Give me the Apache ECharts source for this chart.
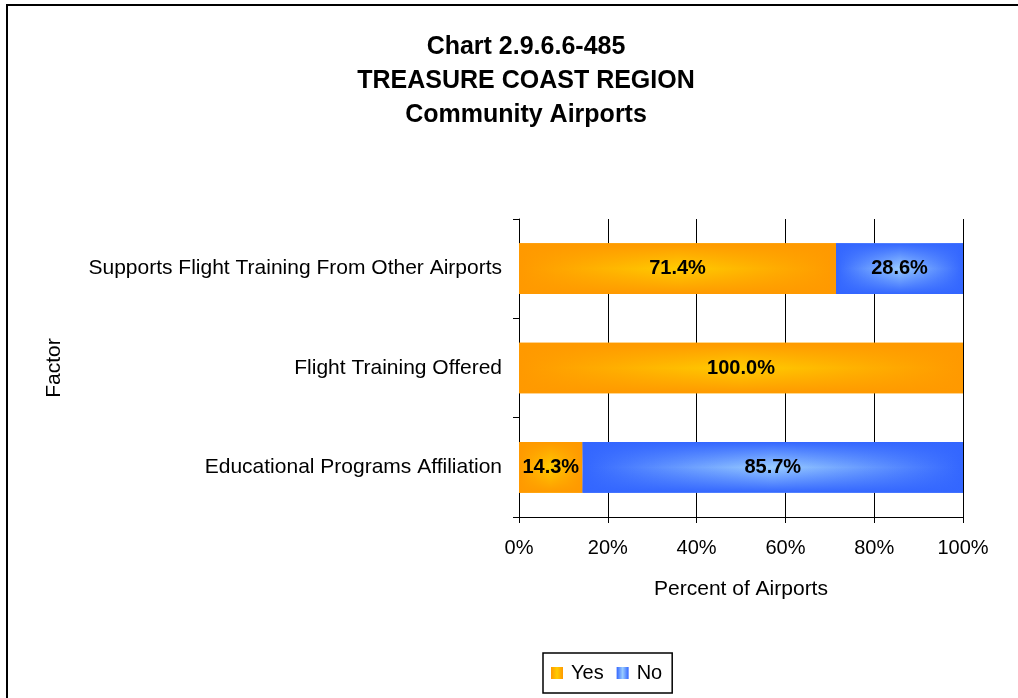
<!DOCTYPE html>
<html>
<head>
<meta charset="utf-8">
<script src="https://cdn.jsdelivr.net/npm/echarts@6/dist/echarts.min.js"></script>
<style>
  html, body { margin: 0; padding: 0; background: #fff; }
  #chart { width: 1018px; height: 698px; }
</style>
</head>
<body>
<div id="chart"></div>
<script>
// categories listed bottom to top (category axis starts at the bottom)
const factors = [
  "Educational Programs Affiliation",
  "Flight Training Offered",
  "Supports Flight Training From Other Airports"
];
const yesValues = [14.3, 100.0, 71.4];
const noValues = [85.7, 0, 28.6];
const xTicks = [0, 20, 40, 60, 80, 100];

const FONT = "Liberation Sans, Arial, sans-serif";

// excel-like "from center" fill: horizontal ramp + vertical darkening overlay
const sideRamp = (edge, mid) =>
  new echarts.graphic.LinearGradient(0, 0, 1, 0, [
    { offset: 0, color: edge },
    { offset: 0.5, color: mid },
    { offset: 1, color: edge }
  ]);
const topBottomShade = (rgb) =>
  new echarts.graphic.LinearGradient(0, 0, 0, 1, [
    { offset: 0, color: "rgba(" + rgb + ",1)" },
    { offset: 0.5, color: "rgba(" + rgb + ",0)" },
    { offset: 1, color: "rgba(" + rgb + ",1)" }
  ]);

const pctLabel = {
  show: true,
  position: "inside",
  color: "#000",
  fontWeight: "bold",
  fontSize: 20,
  fontFamily: FONT,
  formatter: (p) => (p.value > 0 ? p.value.toFixed(1) + "%" : "")
};

const chart = echarts.init(document.getElementById("chart"));

const option = {
  backgroundColor: "#fff",
  animation: false,
  title: {
    text: "Chart 2.9.6.6-485\nTREASURE COAST REGION\nCommunity Airports",
    left: 521,
    top: 25,
    textAlign: "center",
    textStyle: {
      fontFamily: FONT,
      fontWeight: "bold",
      fontSize: 25,
      lineHeight: 34,
      color: "#000"
    }
  },
  graphic: [
    {
      type: "polyline",
      shape: { points: [[7, 698], [7, 5], [1018, 5]] },
      style: { stroke: "#000", lineWidth: 2, fill: null },
      silent: true
    }
  ],
  legend: {
    data: ["Yes", "No"],
    left: 543,
    top: 653,
    orient: "horizontal",
    borderColor: "#000",
    borderWidth: 1.5,
    padding: [10, 10, 10, 8],
    itemWidth: 12,
    itemHeight: 12,
    itemGap: 13,
    icon: "rect",
    textStyle: { fontFamily: FONT, fontSize: 20, color: "#000", padding: [0, 0, 0, 3] }
  },
  grid: {
    left: 519,
    right: 55,
    top: 219,
    bottom: 181,
    containLabel: false
  },
  xAxis: {
    type: "value",
    min: xTicks[0],
    max: xTicks[xTicks.length - 1],
    interval: 20,
    name: "Percent of Airports",
    nameLocation: "middle",
    nameGap: 62,
    nameTextStyle: { fontFamily: FONT, fontSize: 21, color: "#000" },
    axisLine: { show: true, lineStyle: { color: "#000", width: 1 } },
    axisTick: { show: true, length: 6, lineStyle: { color: "#000" } },
    axisLabel: {
      fontFamily: FONT,
      fontSize: 20,
      color: "#000",
      margin: 21,
      formatter: "{value}%"
    },
    splitLine: { show: true, lineStyle: { color: "#000", width: 1 } }
  },
  yAxis: {
    type: "category",
    data: factors,
    name: "Factor",
    nameLocation: "middle",
    nameRotate: 90,
    nameGap: 454,
    nameTextStyle: { fontFamily: FONT, fontSize: 21, color: "#000" },
    axisLine: { show: true, lineStyle: { color: "#000", width: 1 } },
    axisTick: { show: true, length: 6, interval: 0, lineStyle: { color: "#000" } },
    axisLabel: { fontFamily: FONT, fontSize: 21, color: "#000", margin: 17 },
    splitLine: { show: false }
  },
  series: [
    {
      name: "Yes",
      type: "bar",
      stack: "base",
      barWidth: "51%",
      barGap: "-100%",
      z: 2,
      itemStyle: { color: sideRamp("#FF9900", "#FFCC00") },
      data: yesValues
    },
    {
      name: "No",
      type: "bar",
      stack: "base",
      z: 2,
      itemStyle: { color: sideRamp("#3366FF", "#99CCFF") },
      data: noValues
    },
    {
      name: "Yes shade",
      type: "bar",
      stack: "shade",
      barWidth: "51%",
      z: 3,
      silent: true,
      itemStyle: { color: topBottomShade("255,153,0") },
      label: pctLabel,
      data: yesValues
    },
    {
      name: "No shade",
      type: "bar",
      stack: "shade",
      z: 3,
      silent: true,
      itemStyle: { color: topBottomShade("51,102,255") },
      label: pctLabel,
      data: noValues
    }
  ]
};

chart.setOption(option);
</script>
</body>
</html>
